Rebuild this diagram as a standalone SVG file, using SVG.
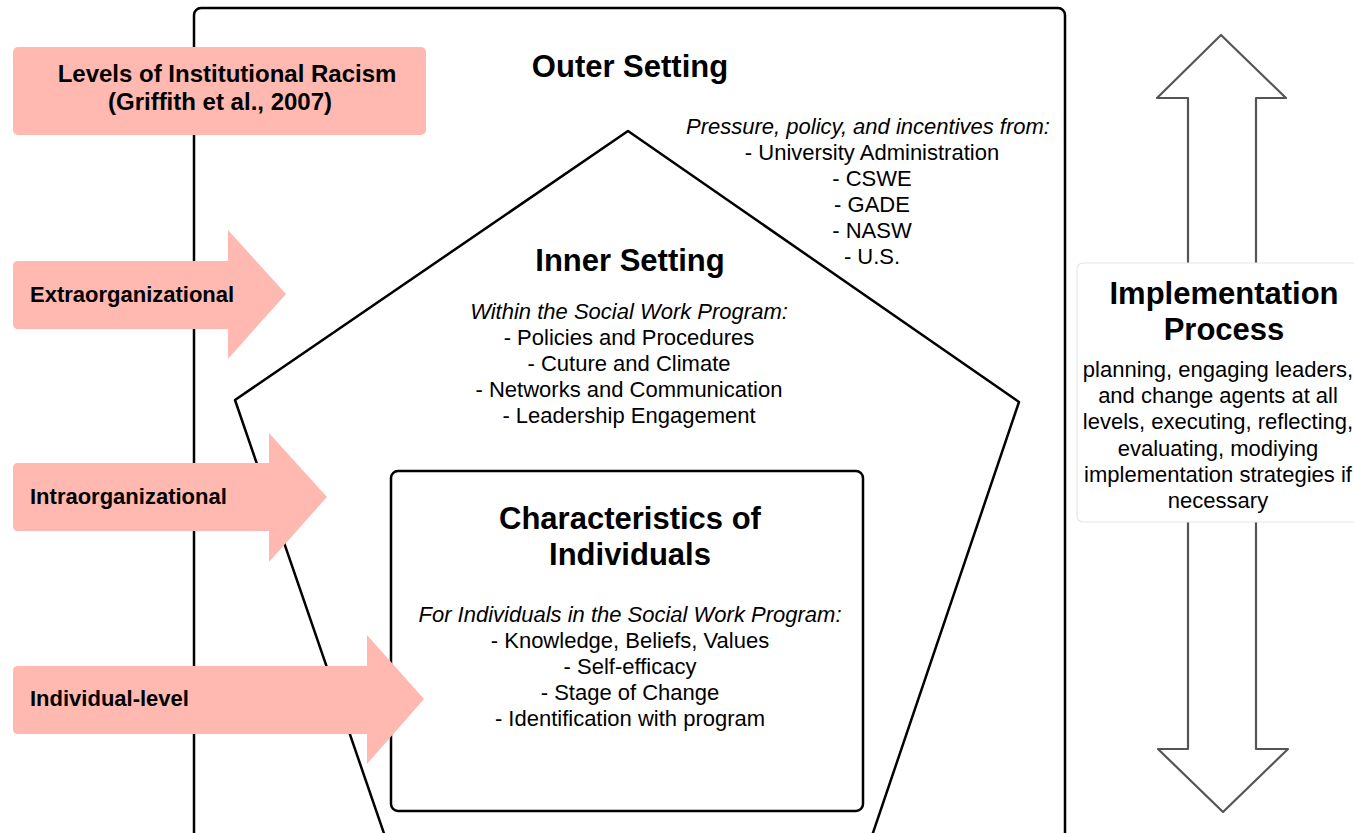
<svg xmlns="http://www.w3.org/2000/svg" width="1354" height="833" viewBox="0 0 1354 833">
<style>
.ln{fill:none;stroke:#000;stroke-width:2.5;stroke-linejoin:round}
.pk{fill:#ffb9b1}
.t{font-family:"Liberation Sans",Arial,sans-serif;fill:#000}
.h{font-weight:bold;font-size:31px}
.lb{font-weight:bold;font-size:22px}
.tt{font-weight:bold;font-size:24px}
.b{font-size:22px}
.i{font-style:italic;font-size:22px}
.c{text-anchor:middle}
</style>
<rect width="1354" height="833" fill="#fff"/>
<g id="outer-setting">
<rect class="ln" x="194" y="8" width="871" height="880" rx="7"/>
<text class="t h c" x="630" y="77">Outer Setting</text>
<text class="t i c" x="868" y="134">Pressure, policy, and incentives from:</text>
<text class="t b c" x="872" y="160">- University Administration</text>
<text class="t b c" x="872" y="186">- CSWE</text>
<text class="t b c" x="872" y="212">- GADE</text>
<text class="t b c" x="872" y="238">- NASW</text>
<text class="t b c" x="872" y="264">- U.S.</text>
</g>
<g id="inner-setting">
<polygon class="ln" points="628,131 1019,402 857,880 400,880 235,400"/>
<text class="t h c" x="630" y="271">Inner Setting</text>
<text class="t i c" x="629" y="319">Within the Social Work Program:</text>
<text class="t b c" x="629" y="345">- Policies and Procedures</text>
<text class="t b c" x="629" y="371">- Cuture and Climate</text>
<text class="t b c" x="629" y="397">- Networks and Communication</text>
<text class="t b c" x="629" y="423">- Leadership Engagement</text>
</g>
<g id="characteristics">
<rect class="ln" x="391" y="471" width="472" height="340" rx="7"/>
<text class="t h c" x="630" y="529">Characteristics of</text>
<text class="t h c" x="630" y="565">Individuals</text>
<text class="t i c" x="630" y="622">For Individuals in the Social Work Program:</text>
<text class="t b c" x="630" y="648">- Knowledge, Beliefs, Values</text>
<text class="t b c" x="630" y="674">- Self-efficacy</text>
<text class="t b c" x="630" y="700">- Stage of Change</text>
<text class="t b c" x="630" y="726">- Identification with program</text>
</g>
<g id="racism-title">
<rect class="pk" x="13" y="47" width="413" height="88" rx="5"/>
<text class="t tt c" x="227" y="82">Levels of Institutional Racism</text>
<text class="t tt c" x="220" y="110">(Griffith et al., 2007)</text>
</g>
<g id="extraorganizational">
<path class="pk" d="M18,261 H228 V230 L286,294 L228,359 V329 H18 Q13,329 13,324 V266 Q13,261 18,261 Z"/>
<text class="t lb" x="30" y="302">Extraorganizational</text>
</g>
<g id="intraorganizational">
<path class="pk" d="M18,463 H269 V433 L327,497 L269,562 V531 H18 Q13,531 13,526 V468 Q13,463 18,463 Z"/>
<text class="t lb" x="30" y="504">Intraorganizational</text>
</g>
<g id="individual-level">
<path class="pk" d="M18,666 H367 V635 L424,699 L367,764 V734 H18 Q13,734 13,729 V671 Q13,666 18,666 Z"/>
<text class="t lb" x="30" y="706">Individual-level</text>
</g>
<g id="connectors">
<path d="M1221,35 L1286,98 H1256 V749 H1288 L1223,812 L1158,749 H1188 V98 H1157 Z" fill="#fff" stroke="#555" stroke-width="2.2" stroke-linejoin="round"/>
</g>
<g id="implementation-process">
<rect x="1077" y="263" width="300" height="259" rx="6" fill="#fff" stroke="#e6e6e6" stroke-width="1.2"/>
<text class="t h c" x="1224" y="304">Implementation</text>
<text class="t h c" x="1224" y="340">Process</text>
<text class="t b c" x="1218" y="377">planning, engaging leaders,</text>
<text class="t b c" x="1218" y="403">and change agents at all</text>
<text class="t b c" x="1218" y="429">levels, executing, reflecting,</text>
<text class="t b c" x="1218" y="456">evaluating, modiying</text>
<text class="t b c" x="1218" y="482">implementation strategies if</text>
<text class="t b c" x="1218" y="508">necessary</text>
</g>
</svg>
